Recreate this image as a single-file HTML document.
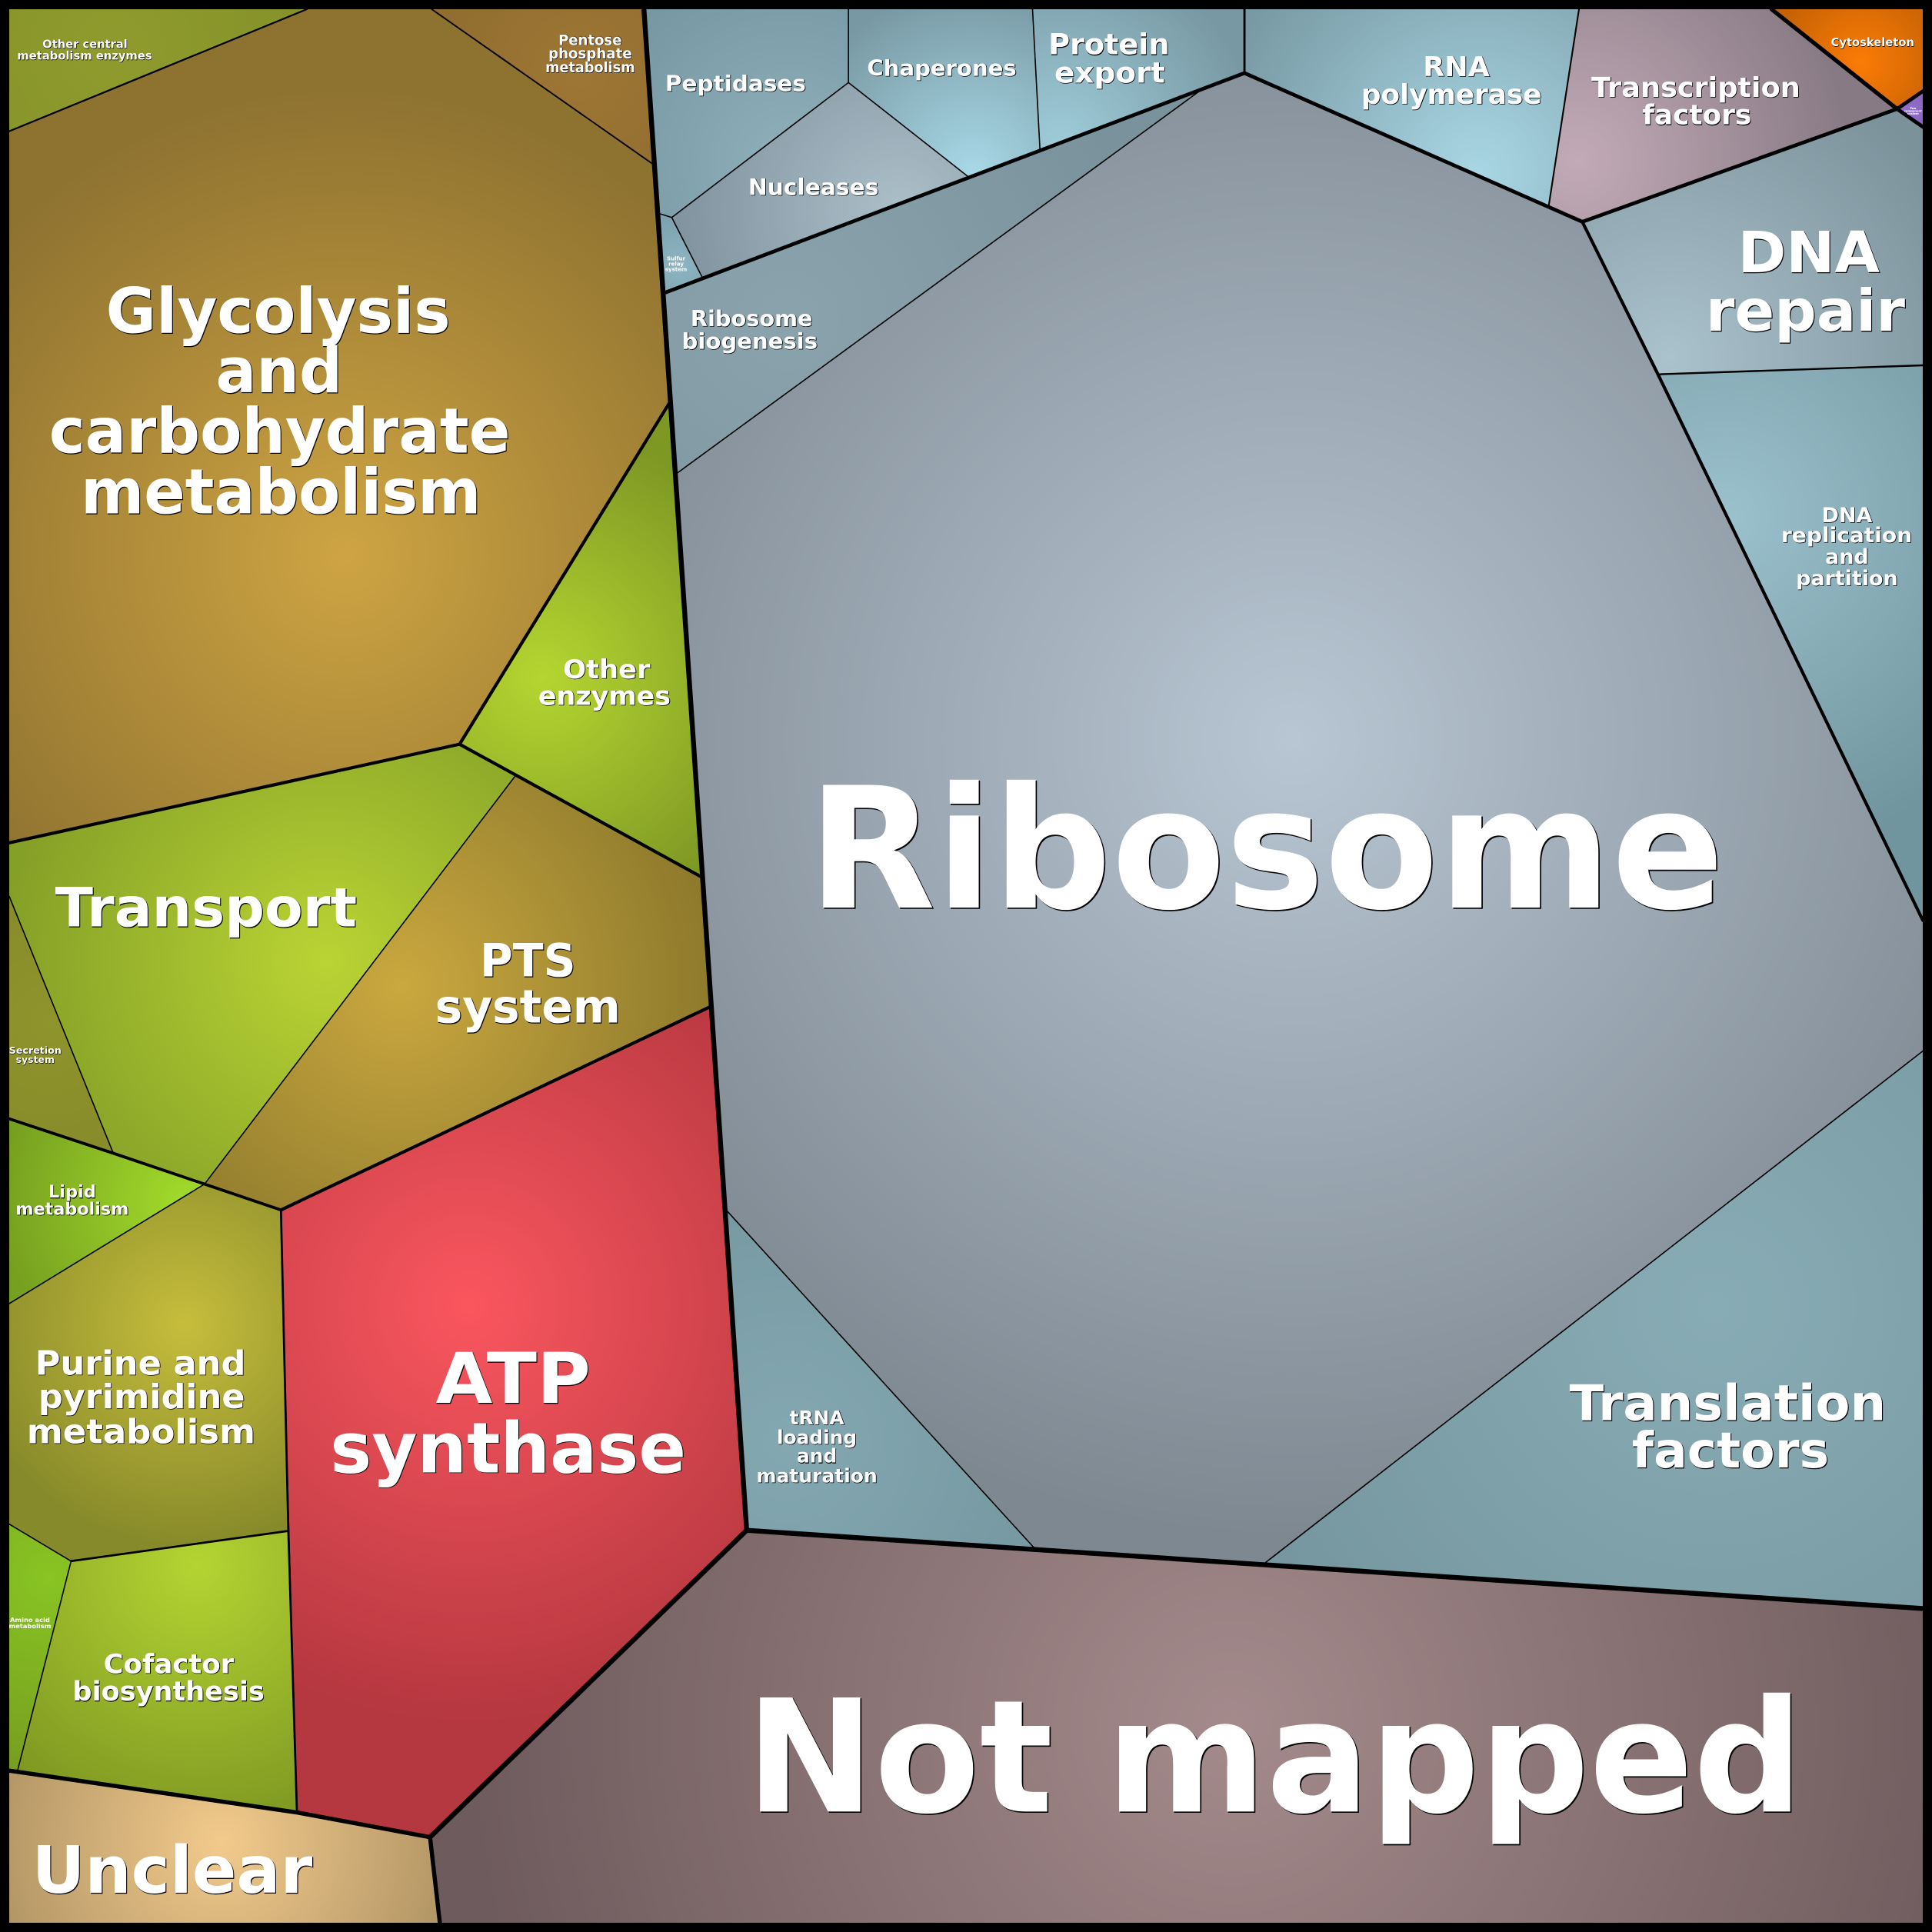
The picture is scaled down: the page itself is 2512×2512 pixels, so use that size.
<!DOCTYPE html>
<html><head><meta charset="utf-8"><style>html,body{margin:0;padding:0;background:#000}svg{display:block}</style></head><body>
<svg xmlns="http://www.w3.org/2000/svg" width="2512" height="2512" viewBox="0 0 1568 1568">
<defs>
<radialGradient id="gOC" gradientUnits="userSpaceOnUse" cx="90" cy="40" r="200"><stop offset="0" stop-color="#8f9b2d"/><stop offset="1" stop-color="#829028"/></radialGradient>
<radialGradient id="gPP" gradientUnits="userSpaceOnUse" cx="470" cy="60" r="120"><stop offset="0" stop-color="#9e7634"/><stop offset="1" stop-color="#906e2f"/></radialGradient>
<radialGradient id="gGL" gradientUnits="userSpaceOnUse" cx="280" cy="450" r="380"><stop offset="0" stop-color="#cea443"/><stop offset="1" stop-color="#8e7230"/></radialGradient>
<radialGradient id="gOE" gradientUnits="userSpaceOnUse" cx="440" cy="550" r="200"><stop offset="0" stop-color="#b4d630"/><stop offset="1" stop-color="#7e9824"/></radialGradient>
<radialGradient id="gTR" gradientUnits="userSpaceOnUse" cx="265" cy="780" r="260"><stop offset="0" stop-color="#bad434"/><stop offset="1" stop-color="#85a027"/></radialGradient>
<radialGradient id="gSE" gradientUnits="userSpaceOnUse" cx="40" cy="830" r="120"><stop offset="0" stop-color="#8f942c"/><stop offset="1" stop-color="#868a2a"/></radialGradient>
<radialGradient id="gPT" gradientUnits="userSpaceOnUse" cx="325" cy="800" r="260"><stop offset="0" stop-color="#caa83f"/><stop offset="1" stop-color="#8d792c"/></radialGradient>
<radialGradient id="gLI" gradientUnits="userSpaceOnUse" cx="150" cy="975" r="150"><stop offset="0" stop-color="#a2db2a"/><stop offset="1" stop-color="#76a020"/></radialGradient>
<radialGradient id="gPU" gradientUnits="userSpaceOnUse" cx="150" cy="1075" r="180"><stop offset="0" stop-color="#c6bd3c"/><stop offset="1" stop-color="#878a2a"/></radialGradient>
<radialGradient id="gAA" gradientUnits="userSpaceOnUse" cx="40" cy="1280" r="150"><stop offset="0" stop-color="#88c422"/><stop offset="1" stop-color="#78a020"/></radialGradient>
<radialGradient id="gCO" gradientUnits="userSpaceOnUse" cx="160" cy="1270" r="220"><stop offset="0" stop-color="#b4d432"/><stop offset="1" stop-color="#7e9822"/></radialGradient>
<radialGradient id="gAT" gradientUnits="userSpaceOnUse" cx="380" cy="1060" r="340"><stop offset="0" stop-color="#fa565f"/><stop offset="1" stop-color="#b5373f"/></radialGradient>
<radialGradient id="gUN" gradientUnits="userSpaceOnUse" cx="180" cy="1495" r="200"><stop offset="0" stop-color="#f2ca8c"/><stop offset="1" stop-color="#ae9263"/></radialGradient>
<radialGradient id="gNM" gradientUnits="userSpaceOnUse" cx="1000" cy="1400" r="620"><stop offset="0" stop-color="#a48a8b"/><stop offset="1" stop-color="#6e5b5d"/></radialGradient>
<radialGradient id="gPE" gradientUnits="userSpaceOnUse" cx="640" cy="130" r="170"><stop offset="0" stop-color="#8fb0bb"/><stop offset="1" stop-color="#7597a1"/></radialGradient>
<radialGradient id="gSU" gradientUnits="userSpaceOnUse" cx="552" cy="215" r="40"><stop offset="0" stop-color="#8cb4c2"/><stop offset="1" stop-color="#7ea2ae"/></radialGradient>
<radialGradient id="gNU" gradientUnits="userSpaceOnUse" cx="730" cy="170" r="190"><stop offset="0" stop-color="#abbfc9"/><stop offset="1" stop-color="#7e919c"/></radialGradient>
<radialGradient id="gCH" gradientUnits="userSpaceOnUse" cx="790" cy="140" r="150"><stop offset="0" stop-color="#a8d8e6"/><stop offset="1" stop-color="#7899a4"/></radialGradient>
<radialGradient id="gPX" gradientUnits="userSpaceOnUse" cx="860" cy="120" r="160"><stop offset="0" stop-color="#9fccd9"/><stop offset="1" stop-color="#7899a4"/></radialGradient>
<radialGradient id="gRB" gradientUnits="userSpaceOnUse" cx="640" cy="260" r="300"><stop offset="0" stop-color="#8aa3ad"/><stop offset="1" stop-color="#7a929c"/></radialGradient>
<radialGradient id="gRI" gradientUnits="userSpaceOnUse" cx="1050" cy="600" r="650"><stop offset="0" stop-color="#b8c6d3"/><stop offset="1" stop-color="#7e8891"/></radialGradient>
<radialGradient id="gTN" gradientUnits="userSpaceOnUse" cx="640" cy="1170" r="200"><stop offset="0" stop-color="#84a8b1"/><stop offset="1" stop-color="#7699a2"/></radialGradient>
<radialGradient id="gTF2" gradientUnits="userSpaceOnUse" cx="1390" cy="1060" r="400"><stop offset="0" stop-color="#88acb5"/><stop offset="1" stop-color="#76979f"/></radialGradient>
<radialGradient id="gRP" gradientUnits="userSpaceOnUse" cx="1200" cy="140" r="220"><stop offset="0" stop-color="#a9d6e4"/><stop offset="1" stop-color="#789aa4"/></radialGradient>
<radialGradient id="gTC" gradientUnits="userSpaceOnUse" cx="1280" cy="130" r="220"><stop offset="0" stop-color="#c2abb7"/><stop offset="1" stop-color="#887a84"/></radialGradient>
<radialGradient id="gCY" gradientUnits="userSpaceOnUse" cx="1510" cy="50" r="100"><stop offset="0" stop-color="#fb7b06"/><stop offset="1" stop-color="#b05804"/></radialGradient>
<radialGradient id="gPR" gradientUnits="userSpaceOnUse" cx="1550" cy="90" r="20"><stop offset="0" stop-color="#9370cc"/><stop offset="1" stop-color="#8560bc"/></radialGradient>
<radialGradient id="gDR" gradientUnits="userSpaceOnUse" cx="1355" cy="290" r="260"><stop offset="0" stop-color="#aac2cc"/><stop offset="1" stop-color="#7c929b"/></radialGradient>
<radialGradient id="gDP" gradientUnits="userSpaceOnUse" cx="1400" cy="420" r="280"><stop offset="0" stop-color="#9bc1cd"/><stop offset="1" stop-color="#71959e"/></radialGradient>
</defs>
<rect x="0" y="0" width="1568" height="1568" fill="#000"/>
<!-- cells -->
<polygon fill="url(#gOC)" points="7.5,7.5 249,7.5 7.5,106.5"/>
<polygon fill="url(#gPP)" points="350.4,7.5 522.6,7.5 530.5,133.6"/>
<polygon fill="url(#gGL)" points="249,7.5 350.4,7.5 530.5,133.6 544.5,325 373,604 7.5,684 7.5,106.5"/>
<polygon fill="url(#gOE)" points="544.5,325 569.8,712 373,604"/>
<polygon fill="url(#gTR)" points="7.5,684 373,604 418,630 166,961 92,936 7.5,727.5"/>
<polygon fill="url(#gSE)" points="7.5,727.5 92,936 7.5,908"/>
<polygon fill="url(#gPT)" points="418,630 569.8,712 576.5,817 228,982 166,961"/>
<polygon fill="url(#gLI)" points="7.5,908 92,936 166,961 7.5,1058"/>
<polygon fill="url(#gPU)" points="166,961 228,982 234,1242.5 57.7,1267 7.5,1237 7.5,1058"/>
<polygon fill="url(#gAA)" points="7.5,1237 57.7,1267 14,1438 7.5,1437"/>
<polygon fill="url(#gCO)" points="57.7,1267 234,1242.5 241,1471 14,1438"/>
<polygon fill="url(#gAT)" points="228,982 576.5,817 606,1242 349,1491 241,1471"/>
<polygon fill="url(#gUN)" points="7.5,1437 241,1471 349,1491 357,1560.6 7.5,1560.6"/>
<polygon fill="url(#gNM)" points="349,1491 606,1242 1026,1269 1560.6,1305.5 1560.6,1560.6 357,1560.6"/>
<polygon fill="url(#gPE)" points="522.6,7.5 688.6,7.5 688.6,67 545.2,176.5 534,173"/>
<polygon fill="url(#gSU)" points="534,173 545.2,176.5 570.3,225.8 538.5,238"/>
<polygon fill="url(#gNU)" points="688.6,67 786,143.6 570.3,225.8 545.2,176.5"/>
<polygon fill="url(#gCH)" points="688.6,7.5 838,7.5 844,121 786,143.6 688.6,67"/>
<polygon fill="url(#gPX)" points="838,7.5 1010,7.5 1010,59.3 844,121"/>
<polygon fill="url(#gRB)" points="538.5,238 975.6,72.4 548.2,385"/>
<polygon fill="url(#gRI)" points="975.6,72.4 1010,59.3 1284.2,180 1345.6,303.8 1560.6,747 1560.6,853 1026,1269 840,1257 588.4,981 548.2,385"/>
<polygon fill="url(#gTN)" points="588.4,981 840,1257 606,1242"/>
<polygon fill="url(#gTF2)" points="1560.6,853 1560.6,1305.5 1026,1269"/>
<polygon fill="url(#gRP)" points="1010,7.5 1281.5,7.5 1256.8,168 1284.2,180 1010,59.3"/>
<polygon fill="url(#gTC)" points="1281.5,7.5 1437.8,7.5 1539.6,88.4 1284.2,180 1256.8,168"/>
<polygon fill="url(#gCY)" points="1437.8,7.5 1560.6,7.5 1560.6,74 1539.6,88.4"/>
<polygon fill="url(#gPR)" points="1539.6,88.4 1560.6,74 1560.6,103"/>
<polygon fill="url(#gDR)" points="1284.2,180 1539.6,88.4 1560.6,103 1560.6,296.5 1345.6,303.8"/>
<polygon fill="url(#gDP)" points="1345.6,303.8 1560.6,296.5 1560.6,747"/>
<!-- borders -->
<g fill="none" stroke="#000" stroke-linejoin="round" stroke-linecap="round">
<g stroke-width="1.0">
<polyline points="418,630 166,961"/>
<polyline points="7.5,727.5 92,936"/>
<polyline points="166,961 7.5,1058"/>
<polyline points="7.5,1237 57.7,1267 14,1438"/>
<polyline points="688.6,7.5 688.6,67"/>
<polyline points="545.2,176.5 688.6,67 786,143.6"/>
<polyline points="534,173 545.2,176.5 570.3,225.8"/>
<polyline points="838,7.5 844,121"/>
<polyline points="975.6,72.4 548.2,385"/>
<polyline points="588.4,981 840,1257"/>
<polyline points="1560.6,853 1026,1269"/>
</g>
<polyline stroke-width="1.4" points="249,7.5 7.5,106.5"/>
<polyline stroke-width="1.2" points="350.4,7.5 530.5,133.6"/>
<polyline stroke-width="1.3" points="1281.5,7.5 1256.8,168"/>
<polyline stroke-width="1.5" points="1345.6,303.8 1560.6,296.5"/>
<g stroke-width="1.7">
<polyline points="228,982 234,1242.5 241,1471"/>
<polyline points="57.7,1267 234,1242.5"/>
</g>
<polyline stroke-width="1.8" points="1010,7.5 1010,59.3"/>
<g stroke-width="2.6">
<polyline points="7.5,684 373,604"/>
<polyline points="373,604 544.5,325"/>
<polyline points="373,604 569.8,712"/>
<polyline points="228,982 576.5,817"/>
<polyline points="1284.2,180 1345.6,303.8 1560.6,747"/>
</g>
<polyline stroke-width="2.4" points="7.5,908 92,936 166,961 228,982"/>
<g stroke-width="3">
<polyline points="538.5,238 1010,59.3"/>
<polyline points="1010,59.3 1284.2,180"/>
<polyline points="1284.2,180 1539.6,88.4"/>
<polyline points="1539.6,88.4 1560.6,74"/>
<polyline points="1539.6,88.4 1560.6,103"/>
</g>
<polyline stroke-width="3.3" points="1437.8,7.5 1539.6,88.4"/>
<g stroke-width="3.4">
<polyline points="7.5,1437 241,1471 349,1491"/>
<polyline points="349,1491 357,1560.6"/>
</g>
<g stroke-width="4">
<polyline points="522.6,7.5 606,1242"/>
<polyline points="606,1242 1560.6,1305.5"/>
<polyline points="606,1242 349,1491"/>
</g>
<rect x="0" y="0" width="1568" height="1568" stroke-width="15"/>
</g>
<!-- labels -->
<g font-family="'DejaVu Sans','Liberation Sans',sans-serif" font-weight="bold" text-anchor="middle" lengthAdjust="spacingAndGlyphs">
<!-- shadows -->
<g fill="#000" stroke="#000" stroke-width="0.3">
<g transform="translate(0.25,0.25)">
<text x="69" y="39.1" font-size="9.4" textLength="69" lengthAdjust="spacingAndGlyphs">Other central</text>
<text x="68.7" y="48.3" font-size="9.4" textLength="109.4" lengthAdjust="spacingAndGlyphs">metabolism enzymes</text>
<text x="479" y="36.4" font-size="11.5" textLength="51.4" lengthAdjust="spacingAndGlyphs">Pentose</text>
<text x="479" y="47.4" font-size="11.5" textLength="67.8" lengthAdjust="spacingAndGlyphs">phosphate</text>
<text x="479" y="58.7" font-size="11.5" textLength="72.8" lengthAdjust="spacingAndGlyphs">metabolism</text>
<text x="1519.8" y="37.5" font-size="9.2" textLength="67.6" lengthAdjust="spacingAndGlyphs">Cytoskeleton</text>
<text x="28.6" y="855.2" font-size="7.8" textLength="42.5" lengthAdjust="spacingAndGlyphs">Secretion</text>
<text x="28.6" y="862.7" font-size="7.8">system</text>
</g>
<g transform="translate(0.4,0.4)">
<text x="597" y="73.9" font-size="18" textLength="114.3" lengthAdjust="spacingAndGlyphs">Peptidases</text>
<text x="764.4" y="61.4" font-size="18" textLength="121.3" lengthAdjust="spacingAndGlyphs">Chaperones</text>
<text x="900" y="44.1" font-size="23.5" textLength="98.3" lengthAdjust="spacingAndGlyphs">Protein</text>
<text x="900.7" y="67" font-size="23.5" textLength="89.8" lengthAdjust="spacingAndGlyphs">export</text>
<text x="660.2" y="158.1" font-size="18.3" textLength="105.9" lengthAdjust="spacingAndGlyphs">Nucleases</text>
<text x="610" y="264.7" font-size="17.5" textLength="99" lengthAdjust="spacingAndGlyphs">Ribosome</text>
<text x="608.5" y="283" font-size="17.5" textLength="110.2" lengthAdjust="spacingAndGlyphs">biogenesis</text>
<text x="1182" y="61.8" font-size="22" textLength="54.1" lengthAdjust="spacingAndGlyphs">RNA</text>
<text x="1178" y="84.3" font-size="22" textLength="146.5" lengthAdjust="spacingAndGlyphs">polymerase</text>
<text x="1376.4" y="78.7" font-size="22.3" textLength="169.6" lengthAdjust="spacingAndGlyphs">Transcription</text>
<text x="1377.2" y="100.9" font-size="22.3" textLength="88.6" lengthAdjust="spacingAndGlyphs">factors</text>
<text x="1499" y="423.7" font-size="16.8">DNA</text>
<text x="1498.8" y="440" font-size="16.8" textLength="106.2" lengthAdjust="spacingAndGlyphs">replication</text>
<text x="1499" y="457.6" font-size="16.8">and</text>
<text x="1499" y="475" font-size="16.8">partition</text>
<text x="663" y="1155.9" font-size="15.5">tRNA</text>
<text x="663" y="1172" font-size="15.5">loading</text>
<text x="663" y="1187" font-size="15.5">and</text>
<text x="663" y="1203" font-size="15.5" textLength="98.1" lengthAdjust="spacingAndGlyphs">maturation</text>
<text x="492.4" y="550.4" font-size="21" textLength="70.8" lengthAdjust="spacingAndGlyphs">Other</text>
<text x="490.6" y="572.1" font-size="21" textLength="107.5" lengthAdjust="spacingAndGlyphs">enzymes</text>
<text x="137" y="1357.8" font-size="21.5" textLength="105.9" lengthAdjust="spacingAndGlyphs">Cofactor</text>
<text x="136.8" y="1380.2" font-size="21.5" textLength="155.7" lengthAdjust="spacingAndGlyphs">biosynthesis</text>
<text x="114" y="1115.8" font-size="27.5" textLength="170.9" lengthAdjust="spacingAndGlyphs">Purine and</text>
<text x="115" y="1142.8" font-size="27.5" textLength="167.7" lengthAdjust="spacingAndGlyphs">pyrimidine</text>
<text x="114.5" y="1171.2" font-size="27.5" textLength="185.5" lengthAdjust="spacingAndGlyphs">metabolism</text>
<text x="58.6" y="972" font-size="14">Lipid</text>
<text x="58.6" y="985.9" font-size="14" textLength="91.8" lengthAdjust="spacingAndGlyphs">metabolism</text>
</g>
<g transform="translate(0.55,0.55)">
<text x="225.8" y="270" font-size="50.8" textLength="279.6" lengthAdjust="spacingAndGlyphs">Glycolysis</text>
<text x="226.5" y="318.4" font-size="50.8" textLength="102.6" lengthAdjust="spacingAndGlyphs">and</text>
<text x="227" y="367.3" font-size="50.8" textLength="374.3" lengthAdjust="spacingAndGlyphs">carbohydrate</text>
<text x="228" y="416.6" font-size="50.8" textLength="324.8" lengthAdjust="spacingAndGlyphs">metabolism</text>
<text x="1468" y="221" font-size="46" textLength="115.2" lengthAdjust="spacingAndGlyphs">DNA</text>
<text x="1465.3" y="268.4" font-size="46.5" textLength="161.8" lengthAdjust="spacingAndGlyphs">repair</text>
<text x="1402.2" y="1152.7" font-size="40" textLength="256.8" lengthAdjust="spacingAndGlyphs">Translation</text>
<text x="1404.5" y="1191" font-size="40" textLength="160" lengthAdjust="spacingAndGlyphs">factors</text>
<text x="416.5" y="1138.6" font-size="57" textLength="125.8" lengthAdjust="spacingAndGlyphs">ATP</text>
<text x="412.4" y="1194.9" font-size="57" textLength="288.8" lengthAdjust="spacingAndGlyphs">synthase</text>
<text x="139.8" y="1536.1" font-size="53" textLength="227.7" lengthAdjust="spacingAndGlyphs">Unclear</text>
<text x="167.2" y="751.9" font-size="44" textLength="245" lengthAdjust="spacingAndGlyphs">Transport</text>
<text x="428.4" y="792.5" font-size="37" textLength="77.8" lengthAdjust="spacingAndGlyphs">PTS</text>
<text x="428.4" y="829.9" font-size="37" textLength="150.6" lengthAdjust="spacingAndGlyphs">system</text>
</g>
<g transform="translate(0.9,0.9)">
<text x="1027.5" y="736.6" font-size="136.6" textLength="743.6" lengthAdjust="spacingAndGlyphs">Ribosome</text>
<text x="1034.4" y="1470.2" font-size="127" textLength="858" lengthAdjust="spacingAndGlyphs">Not mapped</text>
</g>
</g>
<!-- white text -->
<g fill="#fff">
<text x="69" y="39.1" font-size="9.4" textLength="69" lengthAdjust="spacingAndGlyphs">Other central</text>
<text x="68.7" y="48.3" font-size="9.4" textLength="109.4" lengthAdjust="spacingAndGlyphs">metabolism enzymes</text>
<text x="479" y="36.4" font-size="11.5" textLength="51.4" lengthAdjust="spacingAndGlyphs">Pentose</text>
<text x="479" y="47.4" font-size="11.5" textLength="67.8" lengthAdjust="spacingAndGlyphs">phosphate</text>
<text x="479" y="58.7" font-size="11.5" textLength="72.8" lengthAdjust="spacingAndGlyphs">metabolism</text>
<text x="1519.8" y="37.5" font-size="9.2" textLength="67.6" lengthAdjust="spacingAndGlyphs">Cytoskeleton</text>
<text x="28.6" y="855.2" font-size="7.8" textLength="42.5" lengthAdjust="spacingAndGlyphs">Secretion</text>
<text x="28.6" y="862.7" font-size="7.8">system</text>
<text x="548.7" y="211.2" font-size="4.4">Sulfur</text>
<text x="548.7" y="215.8" font-size="4.4">relay</text>
<text x="548.7" y="219.9" font-size="4.4">system</text>
<text x="1552.6" y="88.7" font-size="2.3">Two</text>
<text x="1552.6" y="90.9" font-size="2.3">component</text>
<text x="1552.6" y="93.1" font-size="2.3">system</text>
<text x="24.3" y="1316.4" font-size="5.2">Amino acid</text>
<text x="24.3" y="1321.4" font-size="5.2">metabolism</text>
<text x="597" y="73.9" font-size="18" textLength="114.3" lengthAdjust="spacingAndGlyphs">Peptidases</text>
<text x="764.4" y="61.4" font-size="18" textLength="121.3" lengthAdjust="spacingAndGlyphs">Chaperones</text>
<text x="900" y="44.1" font-size="23.5" textLength="98.3" lengthAdjust="spacingAndGlyphs">Protein</text>
<text x="900.7" y="67" font-size="23.5" textLength="89.8" lengthAdjust="spacingAndGlyphs">export</text>
<text x="660.2" y="158.1" font-size="18.3" textLength="105.9" lengthAdjust="spacingAndGlyphs">Nucleases</text>
<text x="610" y="264.7" font-size="17.5" textLength="99" lengthAdjust="spacingAndGlyphs">Ribosome</text>
<text x="608.5" y="283" font-size="17.5" textLength="110.2" lengthAdjust="spacingAndGlyphs">biogenesis</text>
<text x="1182" y="61.8" font-size="22" textLength="54.1" lengthAdjust="spacingAndGlyphs">RNA</text>
<text x="1178" y="84.3" font-size="22" textLength="146.5" lengthAdjust="spacingAndGlyphs">polymerase</text>
<text x="1376.4" y="78.7" font-size="22.3" textLength="169.6" lengthAdjust="spacingAndGlyphs">Transcription</text>
<text x="1377.2" y="100.9" font-size="22.3" textLength="88.6" lengthAdjust="spacingAndGlyphs">factors</text>
<text x="1499" y="423.7" font-size="16.8">DNA</text>
<text x="1498.8" y="440" font-size="16.8" textLength="106.2" lengthAdjust="spacingAndGlyphs">replication</text>
<text x="1499" y="457.6" font-size="16.8">and</text>
<text x="1499" y="475" font-size="16.8">partition</text>
<text x="663" y="1155.9" font-size="15.5">tRNA</text>
<text x="663" y="1172" font-size="15.5">loading</text>
<text x="663" y="1187" font-size="15.5">and</text>
<text x="663" y="1203" font-size="15.5" textLength="98.1" lengthAdjust="spacingAndGlyphs">maturation</text>
<text x="492.4" y="550.4" font-size="21" textLength="70.8" lengthAdjust="spacingAndGlyphs">Other</text>
<text x="490.6" y="572.1" font-size="21" textLength="107.5" lengthAdjust="spacingAndGlyphs">enzymes</text>
<text x="137" y="1357.8" font-size="21.5" textLength="105.9" lengthAdjust="spacingAndGlyphs">Cofactor</text>
<text x="136.8" y="1380.2" font-size="21.5" textLength="155.7" lengthAdjust="spacingAndGlyphs">biosynthesis</text>
<text x="114" y="1115.8" font-size="27.5" textLength="170.9" lengthAdjust="spacingAndGlyphs">Purine and</text>
<text x="115" y="1142.8" font-size="27.5" textLength="167.7" lengthAdjust="spacingAndGlyphs">pyrimidine</text>
<text x="114.5" y="1171.2" font-size="27.5" textLength="185.5" lengthAdjust="spacingAndGlyphs">metabolism</text>
<text x="58.6" y="972" font-size="14">Lipid</text>
<text x="58.6" y="985.9" font-size="14" textLength="91.8" lengthAdjust="spacingAndGlyphs">metabolism</text>
<text x="225.8" y="270" font-size="50.8" textLength="279.6" lengthAdjust="spacingAndGlyphs">Glycolysis</text>
<text x="226.5" y="318.4" font-size="50.8" textLength="102.6" lengthAdjust="spacingAndGlyphs">and</text>
<text x="227" y="367.3" font-size="50.8" textLength="374.3" lengthAdjust="spacingAndGlyphs">carbohydrate</text>
<text x="228" y="416.6" font-size="50.8" textLength="324.8" lengthAdjust="spacingAndGlyphs">metabolism</text>
<text x="1468" y="221" font-size="46" textLength="115.2" lengthAdjust="spacingAndGlyphs">DNA</text>
<text x="1465.3" y="268.4" font-size="46.5" textLength="161.8" lengthAdjust="spacingAndGlyphs">repair</text>
<text x="1402.2" y="1152.7" font-size="40" textLength="256.8" lengthAdjust="spacingAndGlyphs">Translation</text>
<text x="1404.5" y="1191" font-size="40" textLength="160" lengthAdjust="spacingAndGlyphs">factors</text>
<text x="416.5" y="1138.6" font-size="57" textLength="125.8" lengthAdjust="spacingAndGlyphs">ATP</text>
<text x="412.4" y="1194.9" font-size="57" textLength="288.8" lengthAdjust="spacingAndGlyphs">synthase</text>
<text x="139.8" y="1536.1" font-size="53" textLength="227.7" lengthAdjust="spacingAndGlyphs">Unclear</text>
<text x="167.2" y="751.9" font-size="44" textLength="245" lengthAdjust="spacingAndGlyphs">Transport</text>
<text x="428.4" y="792.5" font-size="37" textLength="77.8" lengthAdjust="spacingAndGlyphs">PTS</text>
<text x="428.4" y="829.9" font-size="37" textLength="150.6" lengthAdjust="spacingAndGlyphs">system</text>
<text x="1027.5" y="736.6" font-size="136.6" textLength="743.6" lengthAdjust="spacingAndGlyphs">Ribosome</text>
<text x="1034.4" y="1470.2" font-size="127" textLength="858" lengthAdjust="spacingAndGlyphs">Not mapped</text>
</g>
</g>
</svg>
</body></html>
